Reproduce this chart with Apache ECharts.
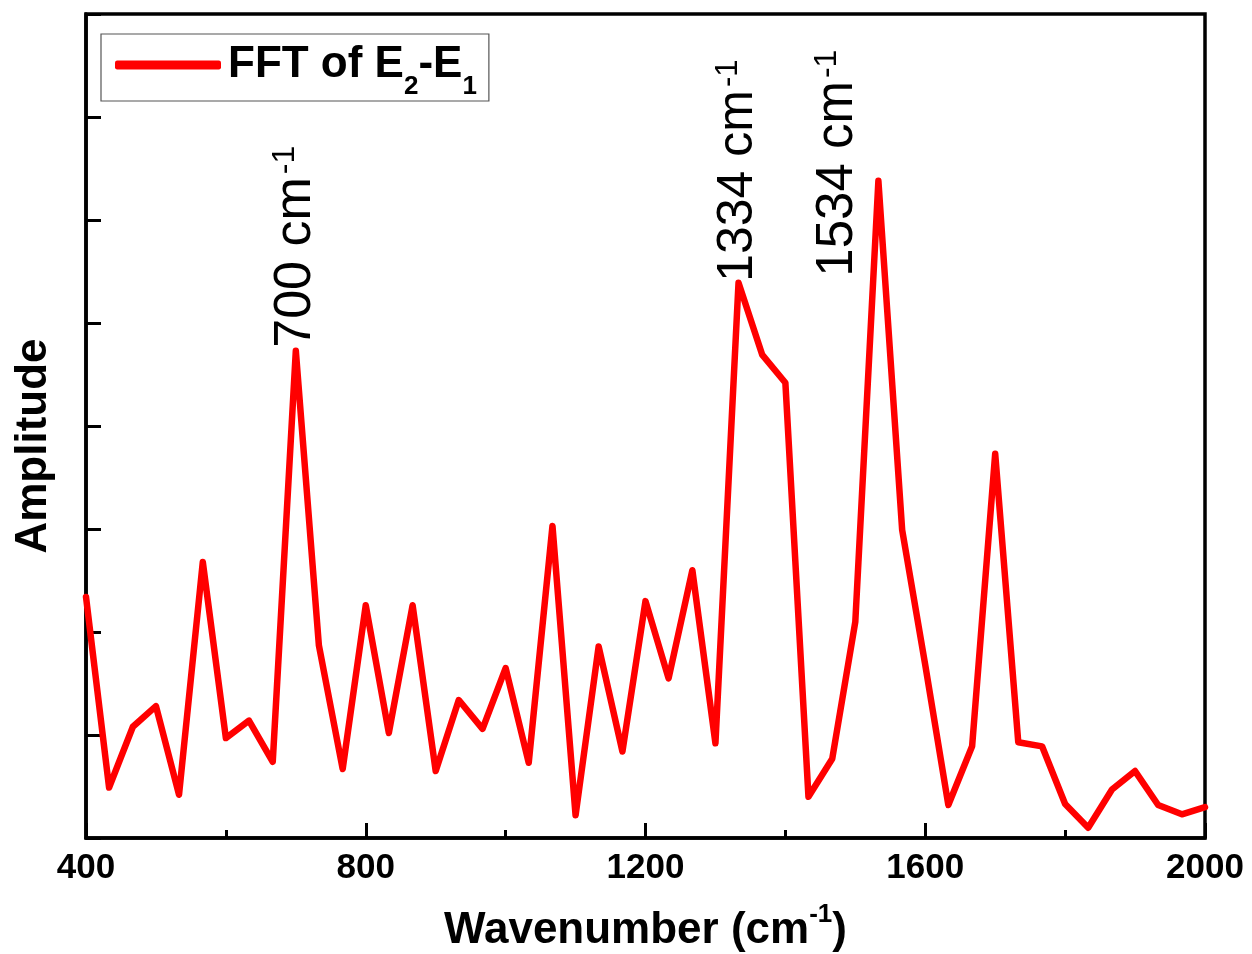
<!DOCTYPE html>
<html>
<head>
<meta charset="utf-8">
<script src="https://cdn.jsdelivr.net/npm/echarts@6/dist/echarts.min.js"></script>
<style>
html,body{margin:0;padding:0;background:#fff;}
#chart{width:1252px;height:954px;}
</style>
</head>
<body>
<div id="chart"></div>
<script>
// ---- data ----
const wavenumbers = [400, 433, 467, 500, 533, 567, 600, 633, 667, 700, 733, 767, 800, 833, 867, 900, 933, 967, 1000, 1033, 1067, 1100, 1133, 1167, 1200, 1233, 1267, 1300, 1333, 1367, 1400, 1433, 1467, 1500, 1533, 1567, 1600, 1633, 1667, 1700, 1733, 1767, 1800, 1833, 1867, 1900, 1933, 1967, 2000];
const amplitude = [2.34, 0.49, 1.08, 1.28, 0.42, 2.68, 0.97, 1.14, 0.74, 4.73, 1.87, 0.67, 2.26, 1.02, 2.26, 0.65, 1.34, 1.06, 1.65, 0.73, 3.03, 0.22, 1.86, 0.84, 2.30, 1.55, 2.60, 0.92, 5.39, 4.69, 4.42, 0.40, 0.77, 2.10, 6.38, 2.99, 1.68, 0.32, 0.89, 3.73, 0.93, 0.89, 0.33, 0.10, 0.47, 0.65, 0.32, 0.23, 0.30];
const xTicks = [400, 800, 1200, 1600, 2000];
const seriesName = 'FFT of E2-E1';
const annotationLabels = ['700', '1334', '1534'];
const annotationX = [700, 1333, 1475];
const annotationY = [4.76, 5.40, 5.45];
const annotationFont = [52, 50, 51];

const FONT = 'Liberation Sans, Arial, sans-serif';
const chart = echarts.init(document.getElementById('chart'), null, {renderer: 'canvas'});
const points = wavenumbers.map((w, i) => [w, amplitude[i]]);

chart.setOption({
  animation: false,
  backgroundColor: '#ffffff',
  grid: {left: 86, right: 47, top: 14, bottom: 116, containLabel: false, outerBoundsMode: 'none',
         show: true, borderColor: '#000', borderWidth: 3.5, backgroundColor: 'transparent'},
  legend: {
    left: 101, top: 34,
    orient: 'horizontal',
    padding: [9, 12, 1, 14],
    borderColor: '#555', borderWidth: 1.2,
    icon: 'roundRect',
    itemWidth: 106, itemHeight: 9, itemGap: 0,
    data: [seriesName],
    formatter: () => '{a|FFT of E}{s|2}{a|-E}{s|1}',
    textStyle: {
      fontFamily: FONT, fontWeight: 'bold', fontSize: 44, color: '#000', padding: [0, 0, 0, 2],
      rich: {
        a: {fontFamily: FONT, fontWeight: 'bold', fontSize: 44, color: '#000', lineHeight: 70, verticalAlign: 'middle'},
        s: {fontFamily: FONT, fontWeight: 'bold', fontSize: 26, color: '#000', lineHeight: 22, verticalAlign: 'bottom'}
      }
    }
  },
  xAxis: {
    type: 'value', min: 400, max: 2000, interval: 400,
    axisLine: {show: true, lineStyle: {color: '#000', width: 3.5}},
    axisTick: {show: true, inside: true, length: 15, lineStyle: {color: '#000', width: 3}},
    minorTick: {show: true, splitNumber: 2, length: 8, lineStyle: {color: '#000', width: 3}},
    splitLine: {show: false},
    axisLabel: {
      color: '#000', fontFamily: FONT, fontWeight: 'bold', fontSize: 35, margin: 13,
      formatter: v => (xTicks.indexOf(v) >= 0 ? String(v) : '')
    },
    name: '{a|Wavenumber (cm}{s|-1}{a|)}',
    nameLocation: 'middle', nameGap: 64,
    nameTextStyle: {
      rich: {
        a: {fontFamily: FONT, fontWeight: 'bold', fontSize: 44, color: '#000', lineHeight: 58, verticalAlign: 'middle'},
        s: {fontFamily: FONT, fontWeight: 'bold', fontSize: 26, color: '#000', lineHeight: 26, verticalAlign: 'top'}
      }
    }
  },
  yAxis: {
    type: 'value', min: 0, max: 8, interval: 1,
    axisLine: {show: true, lineStyle: {color: '#000', width: 3.5}},
    axisTick: {show: true, inside: true, length: 15, lineStyle: {color: '#000', width: 3}},
    splitLine: {show: false},
    axisLabel: {show: false},
    name: 'Amplitude',
    nameLocation: 'middle', nameGap: 30, nameRotate: 90,
    nameTextStyle: {fontFamily: FONT, fontWeight: 'bold', fontSize: 44, color: '#000', padding: [0, 40, 0, 0]}
  },
  series: [{
    name: seriesName,
    type: 'line',
    data: points,
    showSymbol: false,
    symbol: 'none',
    color: '#ff0000',
    lineStyle: {color: '#ff0000', width: 6.5, join: 'round', cap: 'round'},
    clip: false
  }]
});

// annotations positioned through the chart's own scales
const graphics = annotationLabels.map((lab, i) => {
  const p = chart.convertToPixel({gridIndex: 0}, [annotationX[i], annotationY[i]]);
  const fs = annotationFont[i];
  return {
    type: 'text',
    x: p[0], y: p[1],
    rotation: Math.PI / 2,
    z: 100,
    style: {
      text: '{a|' + lab + ' cm}{s|-1}',
      x: 0, y: 0,
      align: 'left', verticalAlign: 'middle',
      textAlign: 'left', textVerticalAlign: 'middle',
      rich: {
        a: {fontFamily: FONT, fontSize: fs, fill: '#000', color: '#000', lineHeight: fs + 2, verticalAlign: 'middle'},
        s: {fontFamily: FONT, fontSize: Math.round(fs * 0.62), fill: '#000', color: '#000', lineHeight: Math.round(fs * 0.62), verticalAlign: 'top', padding: [0, 0, 0, 3]}
      }
    }
  };
});
chart.setOption({graphic: graphics});
</script>
</body>
</html>
